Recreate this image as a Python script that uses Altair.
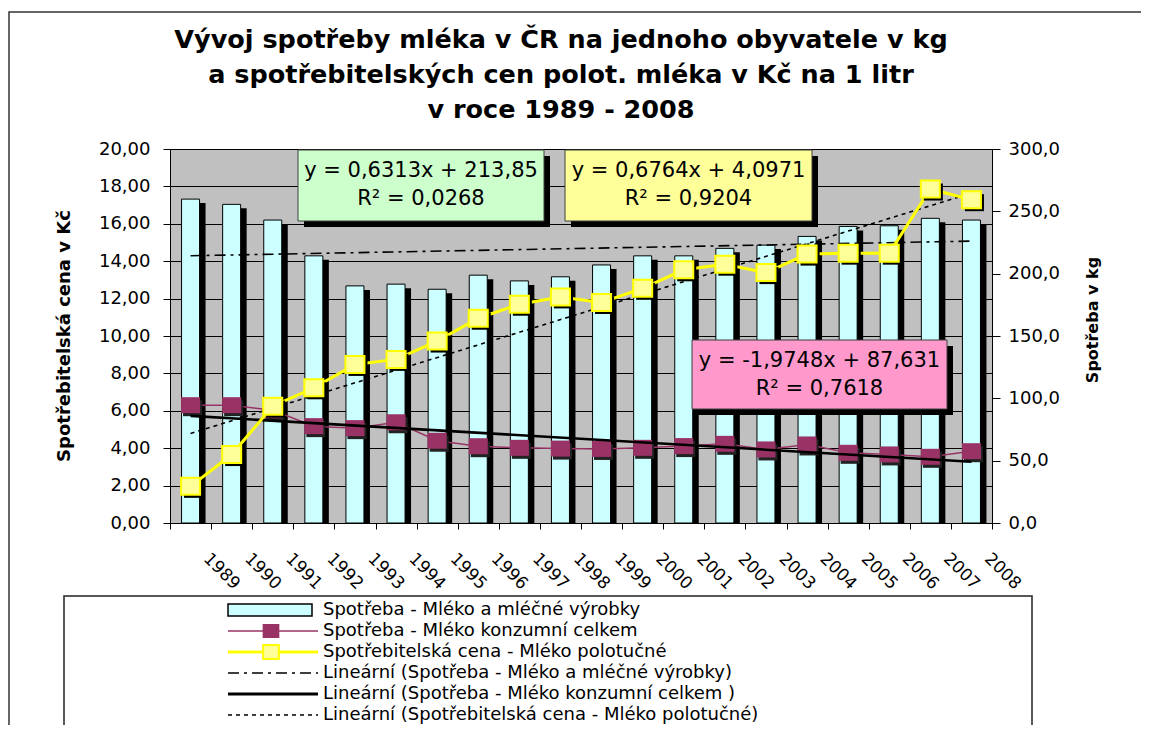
import altair as alt
import pandas as pd

FONT = "DejaVu Sans"

# ---------------- data ----------------
YEARS = [1989, 1990, 1991, 1992, 1993, 1994, 1995, 1996, 1997, 1998,
         1999, 2000, 2001, 2002, 2003, 2004, 2005, 2006, 2007, 2008]
# Spotřeba - Mléko a mléčné výrobky (kg, right axis)
VYROBKY_KG = [259.8, 255.6, 243.0, 214.3, 190.2, 191.6, 187.5, 198.8, 194.2, 197.5,
              207.0, 214.3, 214.3, 220.3, 222.9, 229.9, 237.9, 238.4, 244.4, 243.0]
# Spotřeba - Mléko konzumní celkem (kg, right axis)
KONZUM_KG = [94.5, 94.5, 90.5, 77.7, 76.1, 80.8, 66.0, 61.6, 60.3, 59.7,
             59.4, 60.3, 61.7, 63.5, 59.0, 63.0, 56.3, 55.0, 53.1, 57.6]
# Spotřebitelská cena - Mléko polotučné (Kč, left axis)
CENA_KC = [1.96, 3.66, 6.25, 7.23, 8.48, 8.75, 9.73, 10.95, 11.70, 12.09,
           11.79, 12.55, 13.54, 13.84, 13.39, 14.38, 14.43, 14.43, 17.86, 17.29]

LEFT_TICKS = [0, 2, 4, 6, 8, 10, 12, 14, 16, 18, 20]
RIGHT_TICKS = [0, 50, 100, 150, 200, 250, 300]

TITLE_LINES = [
    "Vývoj spotřeby mléka v ČR na jednoho obyvatele v kg",
    "a spotřebitelských cen polot. mléka v Kč na 1 litr",
    "v roce 1989 - 2008",
]
LEFT_TITLE = "Spotřebitelská cena v Kč"
RIGHT_TITLE = "Spotřeba v kg"
LEGEND_LABELS = [
    "Spotřeba - Mléko a mléčné výrobky",
    "Spotřeba - Mléko konzumní celkem",
    "Spotřebitelská cena - Mléko polotučné",
    "Lineární (Spotřeba - Mléko a mléčné výrobky)",
    "Lineární (Spotřeba - Mléko konzumní celkem )",
    "Lineární (Spotřebitelská cena - Mléko polotučné)",
]
EQ_VYROBKY = ["y = 0,6313x + 213,85", "R² = 0,0268"]
EQ_CENA = ["y = 0,6764x + 4,0971", "R² = 0,9204"]
EQ_KONZUM = ["y = -1,9748x + 87,631", "R² = 0,7618"]

# ---------------- styles ----------------
C_BAR = "#CCFFFF"
C_PURPLE = "#993366"
C_YEL_LINE = "#FFFF00"
C_YEL_FILL = "#FFFF99"
SQ_PURPLE = "M-1.19,-1L1.19,-1L1.19,1L-1.19,1Z"
SQ_YELLOW = "M-1.12,-1L1.12,-1L1.12,1L-1.12,1Z"

bars_df = pd.DataFrame({"year": YEARS, "kg": VYROBKY_KG})
konz_df = pd.DataFrame({"year": YEARS, "kg": KONZUM_KG})
cena_df = pd.DataFrame({"year": YEARS, "kc": CENA_KC})


def x_enc():
    return alt.X(
        "year:O",
        scale=alt.Scale(paddingInner=0, paddingOuter=0),
        axis=alt.Axis(title=None, tickBand="extent", labelAngle=45, labelAlign="left",
                      labelBaseline="top", labelOffset=21, labelPadding=21, tickSize=6,
                      ticks=True, tickWidth=1,
                      tickColor="black", domainColor="black", labelColor="black",
                      labelFont=FONT, labelFontSize=17, labelOverlap=False, grid=False),
    )


def y_kg():
    return alt.Y(
        "kg:Q",
        scale=alt.Scale(domain=[0, 300], nice=False),
        axis=alt.Axis(orient="right", values=RIGHT_TICKS, title=None, grid=False,
                      labelExpr="replace(format(datum.value, '.1f'), '.', ',')",
                      tickSize=8, labelPadding=8, tickColor="black", domainColor="black",
                      labelColor="black", labelFont=FONT, labelFontSize=18),
    )


def y_kc():
    return alt.Y(
        "kc:Q",
        scale=alt.Scale(domain=[0, 20], nice=False),
        axis=alt.Axis(orient="left", values=LEFT_TICKS, title=None, grid=True,
                      gridColor="black", gridOpacity=1, gridWidth=1,
                      labelExpr="replace(format(datum.value, '.2f'), '.', ',')",
                      tickSize=7, labelPadding=13, tickColor="black", domainColor="black",
                      labelColor="black", labelFont=FONT, labelFontSize=18),
    )


# ---------------- kg layers ----------------
bar_shadow = alt.Chart(bars_df).mark_bar(width=18, color="black", xOffset=6, yOffset=4,
                                         clip=True).encode(x=x_enc(), y=y_kg())
bars = alt.Chart(bars_df).mark_bar(width=18, fill=C_BAR, stroke="black",
                                   strokeWidth=1).encode(x=x_enc(), y=y_kg())
bar_trend = alt.Chart(bars_df).transform_regression("year", "kg", method="linear").mark_line(
    color="black", strokeWidth=1.6, strokeDash=[11, 5, 3, 5]).encode(x=x_enc(), y=y_kg())
konz_line = alt.Chart(konz_df).mark_line(color=C_PURPLE, strokeWidth=1.5).encode(
    x=x_enc(), y=y_kg())
konz_shadow = alt.Chart(konz_df).mark_point(shape=SQ_PURPLE, filled=True, fill="#222222",
                                            opacity=1, size=256, xOffset=2, yOffset=3).encode(
    x=x_enc(), y=y_kg())
konz_pts = alt.Chart(konz_df).mark_point(shape=SQ_PURPLE, filled=True, fill=C_PURPLE,
                                         opacity=1, size=256).encode(x=x_enc(), y=y_kg())
konz_trend = alt.Chart(konz_df).transform_regression("year", "kg", method="linear").mark_line(
    color="black", strokeWidth=2.6).encode(x=x_enc(), y=y_kg())

kg_layer = alt.layer(bar_shadow, bars, bar_trend, konz_line, konz_shadow, konz_pts, konz_trend)

# ---------------- Kč layers ----------------
cena_trend = alt.Chart(cena_df).transform_regression("year", "kc", method="linear").mark_line(
    color="black", strokeWidth=1.6, strokeDash=[4, 4]).encode(x=x_enc(), y=y_kc())
cena_line = alt.Chart(cena_df).mark_line(color=C_YEL_LINE, strokeWidth=3).encode(
    x=x_enc(), y=y_kc())
cena_shadow = alt.Chart(cena_df).mark_point(shape=SQ_YELLOW, filled=True, fill="black",
                                            opacity=1, size=289, xOffset=3, yOffset=3).encode(
    x=x_enc(), y=y_kc())
cena_pts = alt.Chart(cena_df).mark_point(shape=SQ_YELLOW, filled=True, fill=C_YEL_FILL,
                                         stroke=C_YEL_LINE, strokeWidth=2, opacity=1,
                                         size=289).encode(x=x_enc(), y=y_kc())

kc_layer = alt.layer(cena_trend, cena_line, cena_shadow, cena_pts)

# ---------------- annotations (pixel positions relative to the plot area) ----------------
one = pd.DataFrame({"k": [0]})


def rect(x, x2, y, y2, **kw):
    return alt.Chart(one).mark_rect(**kw).encode(
        x=alt.value(x), x2=alt.value(x2), y=alt.value(y), y2=alt.value(y2))


def text(label, x, y, **kw):
    return alt.Chart(pd.DataFrame({"label": [label]})).mark_text(**kw).encode(
        text="label:N", x=alt.value(x), y=alt.value(y))


def rule(x, x2, y, **kw):
    return alt.Chart(one).mark_rule(**kw).encode(x=alt.value(x), x2=alt.value(x2), y=alt.value(y))


annots = []
# outer frame (right and bottom edges fall outside the picture)
annots.append(rect(-161, 1010, -137, 620, fillOpacity=0, stroke="#333333", strokeWidth=1.5))
# title
for line, yy in zip(TITLE_LINES, [-101, -66, -31]):
    annots.append(text(line, 391, yy, font=FONT, fontSize=25.5, fontWeight="bold",
                       align="center", baseline="alphabetic", color="black"))
# axis titles
annots.append(text(LEFT_TITLE, -105, 187, font=FONT, fontSize=18, fontWeight="bold",
                   angle=270, align="center", baseline="middle", color="black"))
annots.append(text(RIGHT_TITLE, 923, 171, font=FONT, fontSize=16, fontWeight="bold",
                   angle=270, align="center", baseline="middle", color="black"))

# equation boxes
for (x0, x1, y0, y1, fill, lines) in [
    (128, 374, 1, 72, "#CCFFCC", EQ_VYROBKY),
    (395, 642, 1, 72, "#FFFF99", EQ_CENA),
    (522, 777, 191, 260, "#FF99CC", EQ_KONZUM),
]:
    annots.append(rect(x0 + 6, x1 + 6, y0 + 6, y1 + 6, fill="black"))
    annots.append(rect(x0, x1, y0, y1, fill=fill, stroke="#404040", strokeWidth=1))
    cx = (x0 + x1) / 2
    annots.append(text(lines[0], cx, y0 + 27, font=FONT, fontSize=21, align="center",
                       baseline="alphabetic", color="black"))
    annots.append(text(lines[1], cx, y0 + 55, font=FONT, fontSize=21, align="center",
                       baseline="alphabetic", color="black"))

# legend
annots.append(rect(-106, 862, 447, 620, fill="white", stroke="#222222", strokeWidth=1.5))
rows = [461, 482, 503, 524, 545, 566]
sx0, sx1, smid, tx = 58, 148, 101, 153
annots.append(rect(sx0, 142, rows[0] - 6, rows[0] + 6, fill=C_BAR, stroke="black", strokeWidth=1.5))
annots.append(rule(sx0, sx1, rows[1], color=C_PURPLE, strokeWidth=1.5))
annots.append(alt.Chart(one).mark_point(shape=SQ_PURPLE, filled=True, fill=C_PURPLE, opacity=1,
                                        size=196).encode(x=alt.value(smid), y=alt.value(rows[1])))
annots.append(rule(sx0, sx1, rows[2], color=C_YEL_LINE, strokeWidth=3))
annots.append(alt.Chart(one).mark_point(shape=SQ_YELLOW, filled=True, fill=C_YEL_FILL,
                                        stroke=C_YEL_LINE, strokeWidth=2, opacity=1,
                                        size=196).encode(x=alt.value(smid), y=alt.value(rows[2])))
annots.append(rule(sx0, sx1, rows[3], color="black", strokeWidth=1.6, strokeDash=[11, 5, 3, 5]))
annots.append(rule(sx0, sx1, rows[4], color="black", strokeWidth=3))
annots.append(rule(sx0, sx1, rows[5], color="black", strokeWidth=1.6, strokeDash=[4, 4]))
for label, yy in zip(LEGEND_LABELS, rows):
    annots.append(text(label, tx, yy, font=FONT, fontSize=18, align="left",
                       baseline="middle", color="black"))

annot_layer = alt.layer(*annots)

chart = alt.layer(kg_layer, kc_layer, annot_layer).resolve_scale(y="independent").properties(
    width=822, height=374,
    padding={"left": 162, "top": 141, "right": 149, "bottom": 202},
    autosize=alt.AutoSizeParams(type="none"),
    background="white",
).configure_view(fill="#C0C0C0", stroke="#808080", strokeWidth=1)

chart.save("out.html", embed_options={"renderer": "svg", "actions": False})
